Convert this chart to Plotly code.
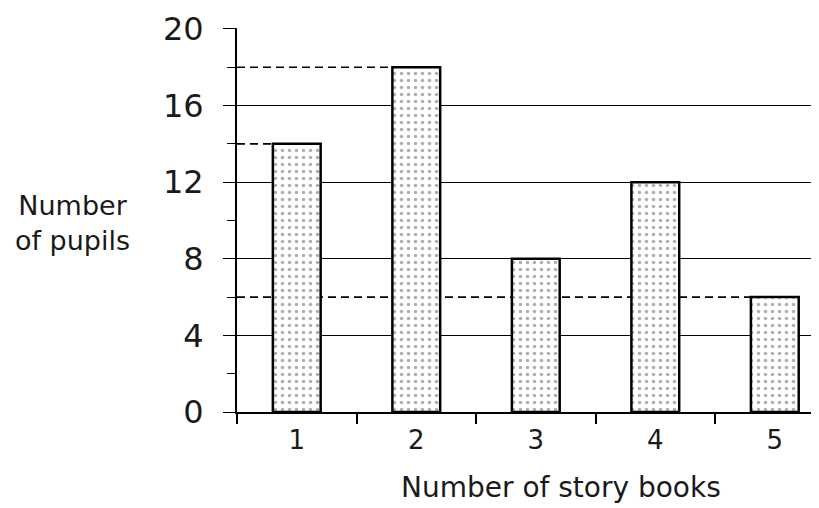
import plotly.graph_objects as go

# Data
books = [1, 2, 3, 4, 5]
pupils = [14, 18, 8, 12, 6]
y_ticks = [0, 4, 8, 12, 16, 20]
# categories whose value is marked by a dashed reading line
dashed_for = [2, 1, 5]

x_title = "Number of story books"
y_title = "Number<br>of pupils"

BAR_W = 0.4
FONT = "DejaVu Sans"

fig = go.Figure()
fig.add_trace(go.Bar(
    x=books, y=pupils, width=BAR_W,
    marker=dict(
        color="white",
        line=dict(color="black", width=2.5),
        pattern=dict(shape=".", fgcolor="#606060", bgcolor="white", size=7, solidity=0.2),
    ),
    showlegend=False,
))

for cat in dashed_for:
    val = pupils[books.index(cat)]
    fig.add_shape(type="line", xref="x", yref="y",
                  x0=0.5, x1=cat - BAR_W / 2, y0=val, y1=val,
                  line=dict(color="black", width=1.6, dash="8px,5px"), layer="between")

# page body has an 8px default margin, so the figure is 8px smaller and shifted
fig.update_layout(
    width=811, height=500,
    margin=dict(l=229, r=2, t=18, b=96),
    paper_bgcolor="white", plot_bgcolor="white",
    font=dict(family=FONT, color="#1a1a1a"),
    bargap=0.6,
)

fig.update_xaxes(
    range=[0.5, 5.353],
    tickmode="array", tickvals=books, ticktext=[str(b) for b in books],
    ticks="", showgrid=False, zeroline=False,
    showline=True, linecolor="black", linewidth=2,
    tickfont=dict(size=26, family=FONT, color="#1a1a1a"),
    ticklabelstandoff=4,
    minor=dict(tick0=0.5, dtick=1, ticks="outside", ticklen=10, tickwidth=1.5,
               tickcolor="black", showgrid=False),
)

fig.update_yaxes(
    range=[0, 20.05],
    tickmode="array", tickvals=y_ticks,
    ticks="outside", ticklen=12, tickwidth=1.4, tickcolor="black",
    showgrid=True, gridcolor="black", gridwidth=1.3,
    zeroline=False,
    showline=True, linecolor="black", linewidth=2,
    tickfont=dict(size=32, family=FONT, color="#1a1a1a"),
    ticklabelstandoff=13, ticklabeloverflow="allow",
    minor=dict(tick0=0, dtick=2, ticks="outside", ticklen=8, tickwidth=1.2,
               tickcolor="black", showgrid=False),
)

fig.add_annotation(text=x_title, xref="paper", yref="paper",
                   x=0.5586, y=-0.197, xanchor="center", yanchor="middle",
                   showarrow=False, font=dict(size=28, family=FONT, color="#1a1a1a"))
fig.add_annotation(text=y_title, xref="paper", yref="paper",
                   x=-0.283, y=0.491, xanchor="center", yanchor="middle", align="center",
                   showarrow=False, font=dict(size=27, family=FONT, color="#1a1a1a"))

fig.write_html("out.html")
